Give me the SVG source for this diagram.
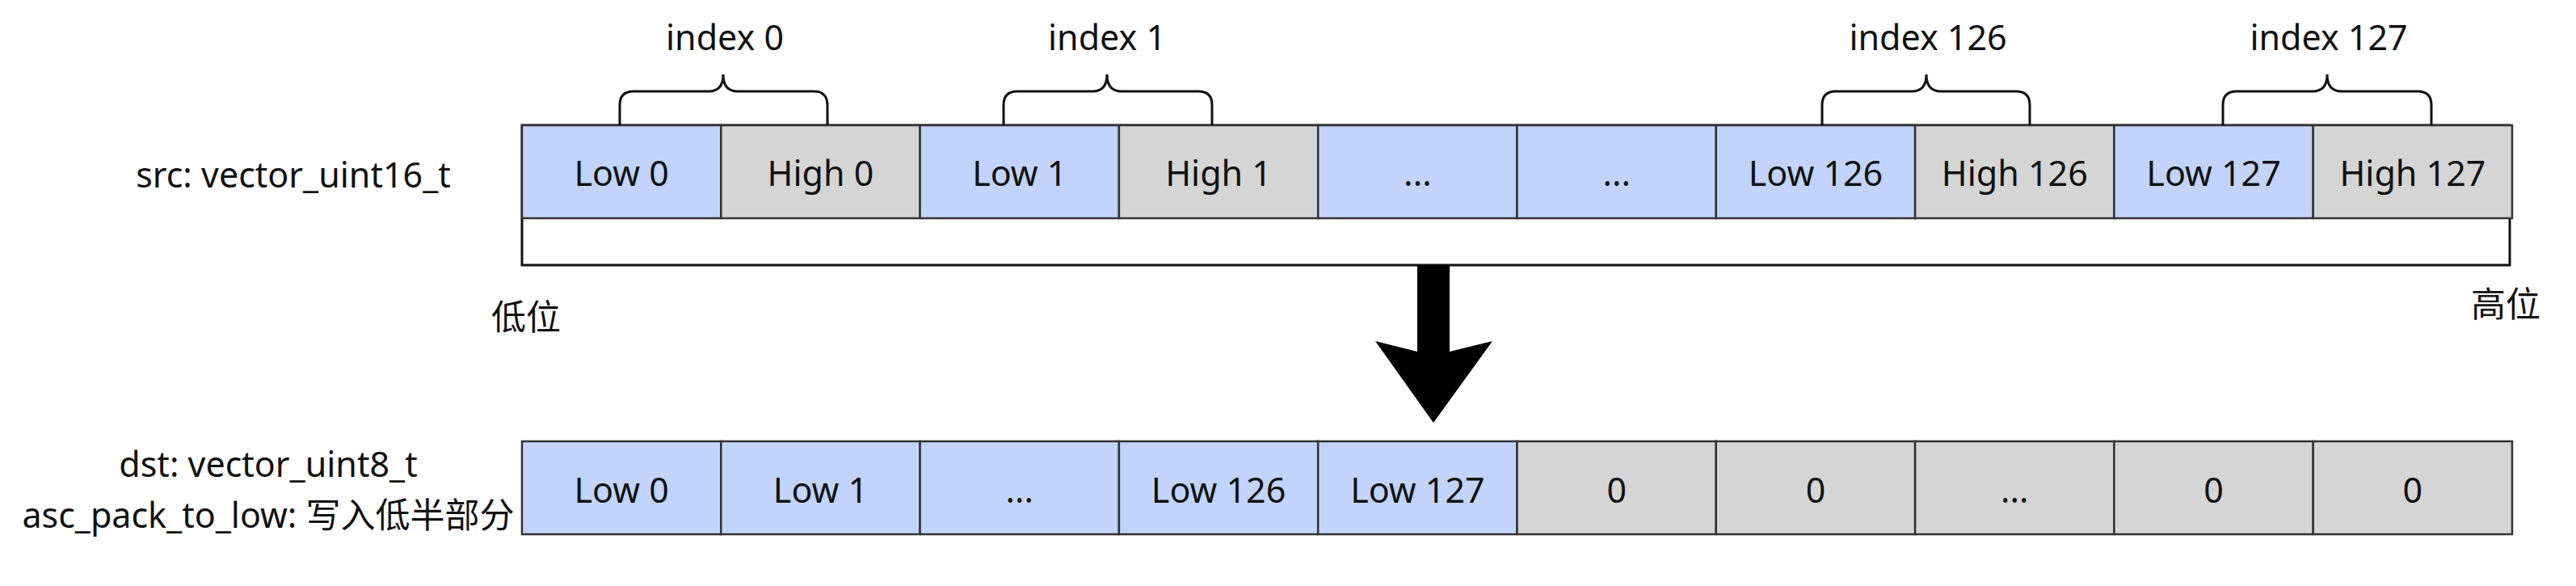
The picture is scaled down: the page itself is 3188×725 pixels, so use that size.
<svg xmlns="http://www.w3.org/2000/svg" width="3188" height="725" viewBox="0 0 3188 725">
<style>
text{font-family:"Noto Sans","Noto Sans CJK SC",sans-serif;font-size:43px;fill:#111;text-anchor:middle}
.lo{fill:#c2d4fc;stroke:#333;stroke-width:2.5}
.hi{fill:#d5d5d5;stroke:#333;stroke-width:2.5}
.brace{fill:none;stroke:#111;stroke-width:3}
.frame{fill:#fff;stroke:#111;stroke-width:3}
</style>
<g id="src-label"><text x="363" y="232">src: vector_uint16_t</text></g>
<g id="dst-label"><text x="332" y="590">dst: vector_uint8_t</text><text x="332" y="653">asc_pack_to_low: 写入低半部分</text></g>
<g id="low-mark"><text x="651" y="408">低位</text></g>
<g id="high-mark"><text x="3101" y="392">高位</text></g>
<g id="src-frame"><rect class="frame" x="646" y="155" width="2460" height="173"/></g>
<g id="src-row">
<g id="s0"><rect class="lo" x="646" y="155" width="246.3" height="115"/><text x="769.2" y="230">Low 0</text></g>
<g id="s1"><rect class="hi" x="892.3" y="155" width="246.3" height="115"/><text x="1015.5" y="230">High 0</text></g>
<g id="s2"><rect class="lo" x="1138.6" y="155" width="246.3" height="115"/><text x="1261.8" y="230">Low 1</text></g>
<g id="s3"><rect class="hi" x="1384.9" y="155" width="246.3" height="115"/><text x="1508.1" y="230">High 1</text></g>
<g id="s4"><rect class="lo" x="1631.2" y="155" width="246.3" height="115"/><text x="1754.4" y="230">...</text></g>
<g id="s5"><rect class="lo" x="1877.5" y="155" width="246.3" height="115"/><text x="2000.7" y="230">...</text></g>
<g id="s6"><rect class="lo" x="2123.8" y="155" width="246.3" height="115"/><text x="2247" y="230">Low 126</text></g>
<g id="s7"><rect class="hi" x="2370.1" y="155" width="246.3" height="115"/><text x="2493.3" y="230">High 126</text></g>
<g id="s8"><rect class="lo" x="2616.4" y="155" width="246.3" height="115"/><text x="2739.6" y="230">Low 127</text></g>
<g id="s9"><rect class="hi" x="2862.7" y="155" width="246.3" height="115"/><text x="2985.9" y="230">High 127</text></g>
</g>
<g id="idx0"><path class="brace" d="M767,155 V130 Q767,113 784,113 H877 Q895,113 895,92 Q895,113 913,113 H1007 Q1024,113 1024,130 V155"/><text x="897" y="62">index 0</text></g>
<g id="idx1"><path class="brace" d="M1242,155 V130 Q1242,113 1259,113 H1352 Q1370,113 1370,92 Q1370,113 1388,113 H1483 Q1500,113 1500,130 V155"/><text x="1370" y="62">index 1</text></g>
<g id="idx126"><path class="brace" d="M2255,155 V130 Q2255,113 2272,113 H2366 Q2384,113 2384,92 Q2384,113 2402,113 H2495 Q2512,113 2512,130 V155"/><text x="2386" y="62">index 126</text></g>
<g id="idx127"><path class="brace" d="M2751,155 V130 Q2751,113 2768,113 H2862 Q2880,113 2880,92 Q2880,113 2898,113 H2992 Q3009,113 3009,130 V155"/><text x="2882" y="62">index 127</text></g>
<g id="dst-row">
<g id="d0"><rect class="lo" x="646" y="546" width="246.3" height="115"/><text x="769.2" y="622">Low 0</text></g>
<g id="d1"><rect class="lo" x="892.3" y="546" width="246.3" height="115"/><text x="1015.5" y="622">Low 1</text></g>
<g id="d2"><rect class="lo" x="1138.6" y="546" width="246.3" height="115"/><text x="1261.8" y="622">...</text></g>
<g id="d3"><rect class="lo" x="1384.9" y="546" width="246.3" height="115"/><text x="1508.1" y="622">Low 126</text></g>
<g id="d4"><rect class="lo" x="1631.2" y="546" width="246.3" height="115"/><text x="1754.4" y="622">Low 127</text></g>
<g id="d5"><rect class="hi" x="1877.5" y="546" width="246.3" height="115"/><text x="2000.7" y="622">0</text></g>
<g id="d6"><rect class="hi" x="2123.8" y="546" width="246.3" height="115"/><text x="2247" y="622">0</text></g>
<g id="d7"><rect class="hi" x="2370.1" y="546" width="246.3" height="115"/><text x="2493.3" y="622">...</text></g>
<g id="d8"><rect class="hi" x="2616.4" y="546" width="246.3" height="115"/><text x="2739.6" y="622">0</text></g>
<g id="d9"><rect class="hi" x="2862.7" y="546" width="246.3" height="115"/><text x="2985.9" y="622">0</text></g>
</g>
<g id="connectors">
<polygon points="1754,328 1794,328 1794,435 1847,422 1774,523 1702,422 1754,435" fill="#000"/>
</g>
</svg>
